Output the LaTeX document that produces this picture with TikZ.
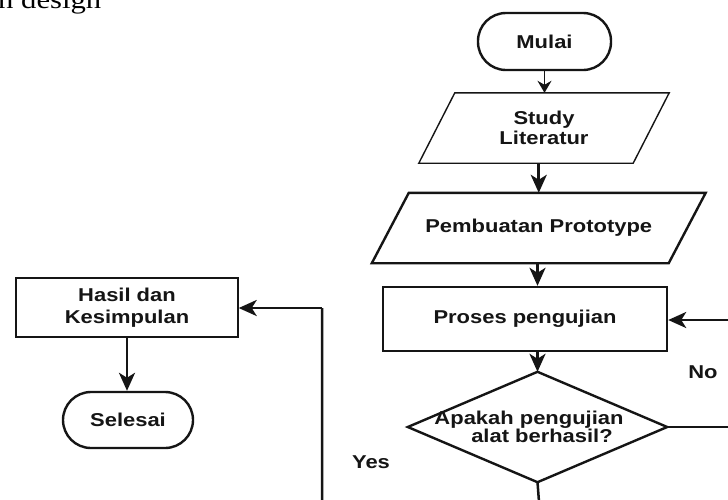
\documentclass[tikz,border=0pt]{standalone}
\usepackage{fontspec}
\usetikzlibrary{arrows.meta,calc}
\newfontfamily\labfont[FakeStretch=1.18]{Liberation Sans}
\newfontfamily\titlefont[FakeStretch=1.18]{Liberation Serif}
\definecolor{ink}{HTML}{151515}
\tikzset{
  lbl/.style={font=\labfont\bfseries\fontsize{18.6}{20.5}\selectfont, text=ink, align=center, inner sep=0pt},
  boxline/.style={draw=ink, line width=2.4pt},
  thinbox/.style={draw=ink, line width=1.4pt},
  conn/.style={draw=ink, line width=2.8pt, -{Stealth[length=18pt,width=16pt,inset=5pt]}},
  thinconn/.style={draw=ink, line width=1.6pt, -{Stealth[length=12pt,width=14pt,inset=4pt]}},
  plainline/.style={draw=ink, line width=2.5pt},
  hole/.style={draw=none, inner sep=0pt},
}
\begin{document}
\begin{tikzpicture}[x=1pt,y=-1pt]
\useasboundingbox (0,0) rectangle (728,499);
\clip (0,0) rectangle (728,499);
\fill[white] (0,0) rectangle (728,499);

% partial title
\node[anchor=base west, inner sep=0pt, font=\titlefont\fontsize{26}{30}\selectfont] (title) at (-2,8) {n design};

% Mulai
\node[lbl, boxline, rounded corners=28pt, minimum width=133pt, minimum height=57pt] (mulai) at (544.5,41.5) {Mulai};

% Study Literatur (parallelogram)
\node[hole, minimum width=214pt, minimum height=70pt] (study) at (544,128) {};
\draw[thinbox] ($(study.north west)+(18,0)$) -- ($(study.north east)+(18,0)$) -- ($(study.south east)+(-18,0)$) -- ($(study.south west)+(-18,0)$) -- cycle;
\node[lbl] (studytxt) at (study.center) {Study\\Literatur};

% Pembuatan Prototype (parallelogram)
\node[hole, minimum width=296.5pt, minimum height=70pt] (pemb) at (538.75,228) {};
\draw[boxline] ($(pemb.north west)+(18.5,0)$) -- ($(pemb.north east)+(18.5,0)$) -- ($(pemb.south east)+(-18.5,0)$) -- ($(pemb.south west)+(-18.5,0)$) -- cycle;
\node[lbl] (pembtxt) at (pemb.center) {Pembuatan Prototype};

% Proses pengujian
\node[lbl, boxline, minimum width=284pt, minimum height=64pt] (proses) at (525,319) {Proses pengujian};

% Decision diamond
\node[hole, minimum width=259pt, minimum height=110pt] (dia) at (537.5,427) {};
\draw[boxline] (dia.north) -- (dia.east) -- (dia.south) -- (dia.west) -- cycle;
\node[lbl, font=\labfont\bfseries\fontsize{18.6}{18.5}\selectfont] (diatxt) at (529,427) {Apakah pengujian\\\hspace*{26pt}alat berhasil?};

% Hasil dan Kesimpulan
\node[lbl, thinbox, minimum width=222pt, minimum height=59pt, font=\labfont\bfseries\fontsize{18.6}{21.5}\selectfont] (hasil) at (127,307.5) {Hasil dan\\Kesimpulan};

% Selesai
\node[lbl, boxline, rounded corners=28pt, minimum width=130pt, minimum height=56pt] (selesai) at (128,420) {Selesai};

% labels
\node[lbl] (no) at (703,372) {No};
\node[lbl] (yes) at (371,462) {Yes};

% off-picture routing points
\coordinate (rr) at (745,427);
\coordinate (rt) at (745,320);
\coordinate (bb) at (540,515);
\coordinate (bl) at (322,515);
\coordinate (lt) at (322,308);

% connectors
\draw[thinconn] (mulai.south) -- (mulai.south |- study.north);
\draw[conn] (pemb.north |- study.south) -- (pemb.north);
\draw[conn] (dia.north |- pemb.south) -- (dia.north |- proses.north);
\draw[conn] (dia.north |- proses.south) -- (dia.north);
\draw[plainline] (dia.east) -- (rr) -- (rt);
\draw[conn] (rt) -- (rt -| proses.east);
\draw[plainline] (dia.south) -- (bb) -- (bl) -- (lt);
\draw[conn] (lt) -- (lt -| hasil.east);
\draw[conn] (hasil.south) -- (hasil.south |- selesai.north);
\end{tikzpicture}
\end{document}
